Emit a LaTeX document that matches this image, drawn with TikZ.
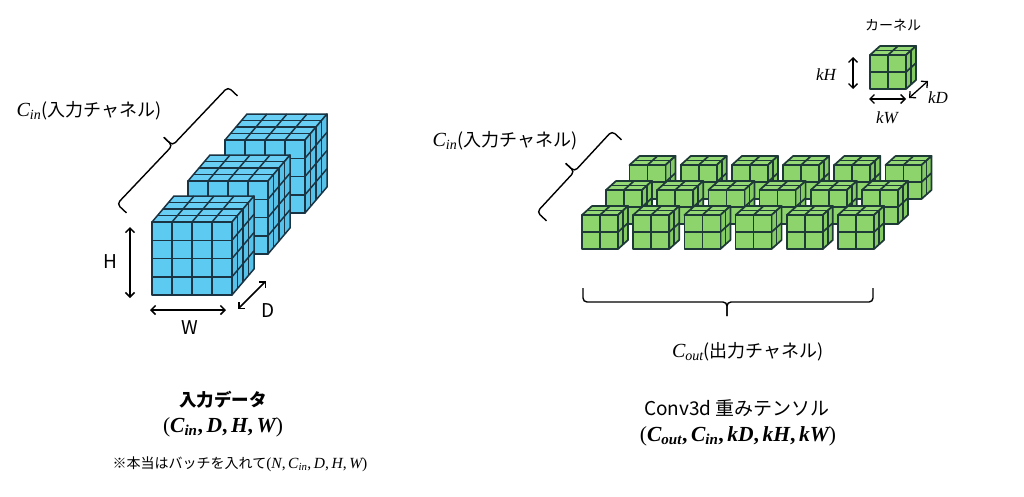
\documentclass[tikz,border=0pt]{standalone}
\usepackage{fontspec}
\setmainfont{Noto Sans CJK JP}
\newfontfamily\mfont{Liberation Serif}
\usetikzlibrary{arrows.meta}
\definecolor{bluefill}{HTML}{5DCAF2}
\definecolor{bluetop}{HTML}{68CEF4}
\definecolor{blueside}{HTML}{56C2EA}
\definecolor{blueedge}{HTML}{1B3444}
\definecolor{greenfill}{HTML}{8DD46D}
\definecolor{greentop}{HTML}{95D876}
\definecolor{greenside}{HTML}{84CB64}
\definecolor{greenedge}{HTML}{1E3A36}

\newcommand\vi[1]{{\mfont\itshape #1}}
\newcommand\vsub[2]{{\mfont\itshape #1\textsubscript{#2}}}
\newcommand\rp[1]{{\mdseries #1}}

\tikzset{
  cubeline/.style={draw=\gedge, line width=\glw, line join=round},
  dimarrow/.style={{Straight Barb[length=4.5pt,width=9pt]}-{Straight Barb[length=4.5pt,width=9pt]}, line width=1.5pt, black},
  bracepath/.style={draw=black, line width=1.4pt, rounded corners=4pt},
  jlabel/.style={inner sep=0pt, font=\fontsize{18}{20}\selectfont},
}

\newcommand\gridblock[2]{%
 \begin{scope}[shift={(#1,#2)}]
  \pgfmathsetmacro\bW{\gc*\gw}%
  \pgfmathsetmacro\bH{\gr*\gh}%
  \pgfmathsetmacro\bDx{\gd*\gdx}%
  \pgfmathsetmacro\bDy{\gd*\gdy}%
  \filldraw[cubeline, fill=\gtop] (0,0) -- (\bW,0) -- ({\bW+\bDx},\bDy) -- (\bDx,\bDy) -- cycle;
  \foreach \i in {1,...,\gcm} \draw[cubeline] ({\i*\gw},0) -- ({\i*\gw+\bDx},\bDy);
  \foreach \k in {1,...,\gdm} \draw[cubeline] ({\k*\gdx},{\k*\gdy}) -- ({\bW+\k*\gdx},{\k*\gdy});
  \filldraw[cubeline, fill=\gside] (\bW,0) -- ({\bW+\bDx},\bDy) -- ({\bW+\bDx},{\bH+\bDy}) -- (\bW,\bH) -- cycle;
  \foreach \j in {1,...,\grm} \draw[cubeline] (\bW,{\j*\gh}) -- ({\bW+\bDx},{\j*\gh+\bDy});
  \foreach \k in {1,...,\gdm} \draw[cubeline] ({\bW+\k*\gdx},{\k*\gdy}) -- ({\bW+\k*\gdx},{\bH+\k*\gdy});
  \filldraw[cubeline, fill=\gfront] (0,0) rectangle (\bW,\bH);
  \foreach \i in {1,...,\gcm} \draw[cubeline] ({\i*\gw},0) -- ({\i*\gw},\bH);
  \foreach \j in {1,...,\grm} \draw[cubeline] (0,{\j*\gh}) -- (\bW,{\j*\gh});
 \end{scope}}

\newcommand\setblue{\def\gc{4}\def\gr{4}\def\gd{4}\def\gcm{3}\def\grm{3}\def\gdm{3}%
  \def\gw{20}\def\gh{18.25}\def\gdx{5.5}\def\gdy{-6.5}%
  \def\gfront{bluefill}\def\gtop{bluetop}\def\gside{blueside}\def\gedge{blueedge}\def\glw{1.5pt}}
\newcommand\setgreen{\def\gc{2}\def\gr{2}\def\gd{2}\def\gcm{1}\def\grm{1}\def\gdm{1}%
  \def\gw{18}\def\gh{17}\def\gdx{5}\def\gdy{-4.5}%
  \def\gfront{greenfill}\def\gtop{greentop}\def\gside{greenside}\def\gedge{greenedge}\def\glw{1.7pt}}

\begin{document}
\begin{tikzpicture}[x=1pt,y=-1pt]
\useasboundingbox (0,0) rectangle (1024,496);
\fill[white] (0,0) rectangle (1024,496);

% ---------------- left: input data ----------------
\setblue
\gridblock{225}{140}
\gridblock{188}{181}
\gridblock{152}{222}

% dimension arrows
\coordinate (hA) at (130,227); \coordinate (hB) at (130,298);
\coordinate (wA) at (150,310); \coordinate (wB) at (226,310);
\coordinate (dA) at (238,309); \coordinate (dB) at (266,281);
\draw[dimarrow] (hA) -- (hB);
\draw[dimarrow] (wA) -- (wB);
\draw[dimarrow] (dA) -- (dB);
\node[inner sep=0pt, font=\fontsize{19}{20}\selectfont] (lblH) at (110,262) {H};
\node[inner sep=0pt, font=\fontsize{19}{20}\selectfont] (lblW) at (190,328) {W};
\node[inner sep=0pt, font=\fontsize{19}{20}\selectfont] (lblD) at (268,311) {D};

% left brace
\coordinate (lbH1) at (126.5,212.9); \coordinate (lbP1) at (117,204);
\coordinate (lbM) at (172.5,145.5); \coordinate (lbT) at (163.8,137.3);
\coordinate (lbP2) at (228,87); \coordinate (lbH2) at (237.5,95.9);
\draw[bracepath] (lbH1) -- (lbP1) -- (lbM) -- (lbT);
\draw[bracepath] (lbH2) -- (lbP2) -- (lbM) -- (lbT);
\node[jlabel] (lblCinL) at (89,111) {{\fontsize{20}{20}\selectfont\vsub{C}{in}}(入力チャネル)};

% captions
\node[inner sep=0pt, font=\fontsize{17.5}{20}\selectfont\bfseries] (lblData) at (223,400) {入力データ};
\node[inner sep=0pt, font=\fontsize{21.5}{22}\selectfont\mfont\bfseries] (lblDataShape) at (223,427)
  {\rp{(}\vsub{C}{in},\,\vi{D},\,\vi{H},\,\vi{W}\rp{)}};
\node[inner sep=0pt, font=\fontsize{14}{15}\selectfont] (lblNote) at (240,464)
  {※本当はバッチを入れて{\fontsize{15.5}{16}\selectfont\mfont(\vi{N},\,\vsub{C}{in},\,\vi{D},\,\vi{H},\,\vi{W})}};

% ---------------- right: conv3d weights ----------------
\setgreen
\foreach \c in {0,...,5} {\gridblock{629.5+51.2*\c}{165}}
\foreach \c in {0,...,5} {\gridblock{606+51.2*\c}{190}}
\foreach \c in {0,...,5} {\gridblock{582+51.2*\c}{215}}

% kernel
\gridblock{870}{55}
\node[inner sep=0pt, font=\fontsize{14}{16}\selectfont] (lblKernel) at (893,25) {カーネル};
\coordinate (khA) at (853,57); \coordinate (khB) at (853,89);
\coordinate (kwA) at (869,99); \coordinate (kwB) at (906,99);
\coordinate (kdA) at (909,98); \coordinate (kdB) at (928,81);
\draw[dimarrow, line width=1.3pt] (khA) -- (khB);
\draw[dimarrow, line width=1.3pt] (kwA) -- (kwB);
\draw[dimarrow, line width=1.3pt] (kdA) -- (kdB);
\node[inner sep=0pt, font=\fontsize{17}{18}\selectfont] (lblkH) at (826,75) {\vi{kH}};
\node[inner sep=0pt, font=\fontsize{17}{18}\selectfont] (lblkW) at (887,118) {\vi{kW}};
\node[inner sep=0pt, font=\fontsize{17}{18}\selectfont] (lblkD) at (938,98) {\vi{kD}};

% right diagonal brace
\coordinate (rbH1) at (546.5,220.8); \coordinate (rbP1) at (537,212);
\coordinate (rbM) at (574.5,171.5); \coordinate (rbT) at (565.7,163.4);
\coordinate (rbP2) at (612,131); \coordinate (rbH2) at (621.5,139.8);
\draw[bracepath] (rbH1) -- (rbP1) -- (rbM) -- (rbT);
\draw[bracepath] (rbH2) -- (rbP2) -- (rbM) -- (rbT);
\node[jlabel] (lblCinR) at (505,141) {{\fontsize{20}{20}\selectfont\vsub{C}{in}}(入力チャネル)};

% bottom brace
\coordinate (bbH1) at (583,288); \coordinate (bbP1) at (583,302);
\coordinate (bbM) at (727,302); \coordinate (bbT) at (727,316);
\coordinate (bbP2) at (873,302); \coordinate (bbH2) at (873,288);
\draw[bracepath] (bbH1) -- (bbP1) -- (bbM) -- (bbT);
\draw[bracepath] (bbH2) -- (bbP2) -- (bbM) -- (bbT);
\node[jlabel] (lblCout) at (748,352) {{\fontsize{20}{20}\selectfont\vsub{C}{out}}(出力チャネル)};

% captions
\node[inner sep=0pt, font=\fontsize{19}{20}\selectfont] (lblConv) at (737,408) {Conv3d 重みテンソル};
\node[inner sep=0pt, font=\fontsize{21.5}{22}\selectfont\mfont\bfseries] (lblConvShape) at (738,436)
  {\rp{(}\vsub{C}{out},\,\vsub{C}{in},\,\vi{kD},\,\vi{kH},\,\vi{kW}\rp{)}};
\end{tikzpicture}
\end{document}
